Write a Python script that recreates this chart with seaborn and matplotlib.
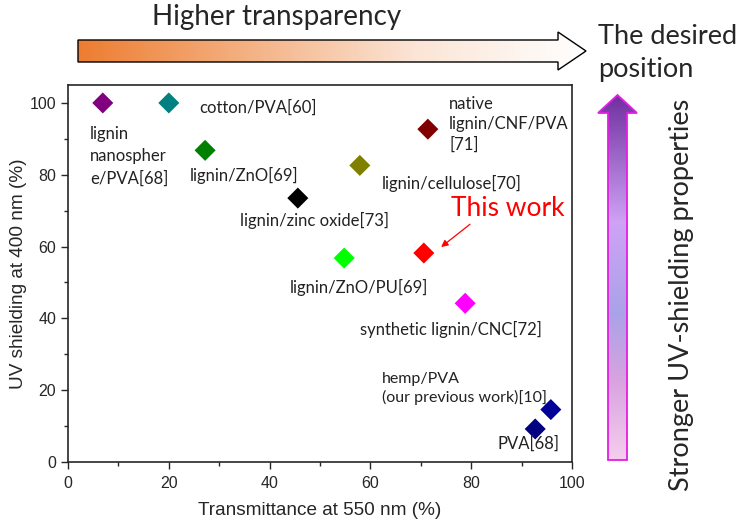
import numpy as np
import pandas as pd
import matplotlib
matplotlib.use("Agg")
import matplotlib.pyplot as plt
from matplotlib.patches import Polygon
from matplotlib.colors import LinearSegmentedColormap
import seaborn as sns

# data
names = ["lignin nanosphere/PVA[68]", "cotton/PVA[60]", "lignin/ZnO[69]",
         "lignin/zinc oxide[73]", "lignin/cellulose[70]", "native lignin/CNF/PVA[71]",
         "lignin/ZnO/PU[69]", "This work", "synthetic lignin/CNC[72]",
         "hemp/PVA (our previous work)[10]", "PVA[68]"]
transmittance = [6.9, 20.0, 27.2, 45.6, 57.9, 71.4, 54.8, 70.6, 78.8, 95.8, 92.7]
uv_shielding = [100.0, 100.0, 86.8, 73.5, 82.6, 92.7, 56.8, 58.2, 44.2, 14.6, 9.2]
colors = ["#800080", "#008080", "#008000", "#000000", "#808000", "#800000",
          "#00ff00", "#ff0000", "#ff00ff", "#000099", "#000080"]

df = pd.DataFrame({"name": names, "T": transmittance, "UV": uv_shielding})

sns.set_style("ticks")
plt.rcParams["font.family"] = ["Liberation Sans", "DejaVu Sans"]
lab_font = ["Lato", "DejaVu Sans"]

fig = plt.figure(figsize=(7.43, 5.24), dpi=100)
ax = fig.add_axes([68/743, 1-462/524, (572-68)/743, (462-85)/524])
ax.set_facecolor("none")

sns.scatterplot(data=df, x="T", y="UV", hue="name", palette=dict(zip(names, colors)),
                marker="D", s=115, linewidth=0, legend=False, ax=ax, zorder=3)

ax.set_xlim(0, 100)
ax.set_ylim(0, 105)
ax.set_xticks([0, 20, 40, 60, 80, 100])
ax.set_yticks([0, 20, 40, 60, 80, 100])
ax.set_xticks(np.arange(10, 100, 20), minor=True)
ax.set_yticks(np.arange(10, 100, 20), minor=True)
ax.tick_params(which="major", direction="out", length=5, width=1, labelsize=11.5)
ax.tick_params(axis="x", which="major", pad=5)
ax.tick_params(which="minor", direction="out", length=3, width=1)
for s in ax.spines.values():
    s.set_linewidth(1.2)
ax.set_xlabel("Transmittance at 550 nm (%)", fontsize=13.7, labelpad=8)
ax.set_ylabel("UV shielding at 400 nm (%)", fontsize=13.7, labelpad=2)

# point labels
lab = dict(fontsize=12, family=lab_font, color="#222222")
ax.text(4.4, 93.5, "lignin\nnanospher\ne/PVA[68]", ha="left", va="top", linespacing=1.45, **lab)
ax.text(26.0, 98.6, "cotton/PVA[60]", ha="left", va="center", **lab)
ax.text(24.2, 79.8, "lignin/ZnO[69]", ha="left", va="center", **lab)
ax.text(34.1, 67.2, "lignin/zinc oxide[73]", ha="left", va="center", **lab)
ax.text(62.3, 77.6, "lignin/cellulose[70]", ha="left", va="center", **lab)
ax.text(75.6, 102.0, "native\nlignin/CNF/PVA\n[71]", ha="left", va="top", linespacing=1.35, **lab)
ax.text(44.0, 48.5, "lignin/ZnO/PU[69]", ha="left", va="center", **lab)
ax.text(57.9, 37.0, "synthetic lignin/CNC[72]", ha="left", va="center", **lab)
ax.text(62.3, 25.0, "hemp/PVA\n(our previous work)[10]", ha="left", va="top", linespacing=1.3,
        fontsize=11.5, family=lab_font, color="#222222")
ax.text(85.3, 5.0, "PVA[68]", ha="left", va="center", **lab)
ax.text(76.0, 70.6, "This work", ha="left", va="center", fontsize=19, family=lab_font, color="red")
ax.annotate("", xy=(73.6, 59.4), xytext=(80.2, 66.7),
            arrowprops=dict(arrowstyle="-|>", color="red", lw=0.9, mutation_scale=10))

# decoration layer in pixel coordinates
deco = fig.add_axes([0, 0, 1, 1], zorder=-1)
deco.set_xlim(0, 743)
deco.set_ylim(524, 0)
deco.axis("off")

# horizontal gradient arrow
harrow = [(78, 40), (558, 40), (558, 32), (586, 51), (558, 70), (558, 62), (78, 62)]
hpoly = Polygon(harrow, closed=True, facecolor="none", edgecolor="black", lw=1.0, zorder=3)
deco.add_patch(hpoly)
hcmap = LinearSegmentedColormap.from_list("h", ["#ed7d31", "#f4b183", "#fbe5d6", "#ffffff"])
grad = np.linspace(0, 1, 256).reshape(1, -1)
im = deco.imshow(grad, cmap=hcmap, extent=(78, 586, 70, 32), aspect="auto", zorder=2)
im.set_clip_path(hpoly)
deco.text(277, 17, "Higher transparency", ha="center", va="center", fontsize=20, family=lab_font)
deco.text(598, 53, "The desired\nposition", ha="left", va="center", fontsize=19.5,
          family=lab_font, linespacing=1.4)

# vertical gradient arrow
varrow = [(608, 460), (608, 113), (598, 113), (617.5, 95), (637, 113), (627, 113), (627, 460)]
vpoly = Polygon(varrow, closed=True, facecolor="none", edgecolor="#e020e0", lw=1.3, zorder=3)
deco.add_patch(vpoly)
vcmap = LinearSegmentedColormap.from_list("v", [(0, "#7030a0"), (0.35, "#cfa3f5"),
                                                (0.6, "#aaa2e8"), (0.78, "#d8a2e0"),
                                                (1, "#f6cdee")])
vgrad = np.linspace(0, 1, 256).reshape(-1, 1)
im2 = deco.imshow(vgrad, cmap=vcmap, extent=(598, 637, 460, 95), aspect="auto", zorder=2)
im2.set_clip_path(vpoly)
deco.text(681, 295, "Stronger UV-shielding properties", rotation=90, ha="center", va="center",
          fontsize=19.5, family=lab_font)

fig.savefig("out.png", dpi=100)
